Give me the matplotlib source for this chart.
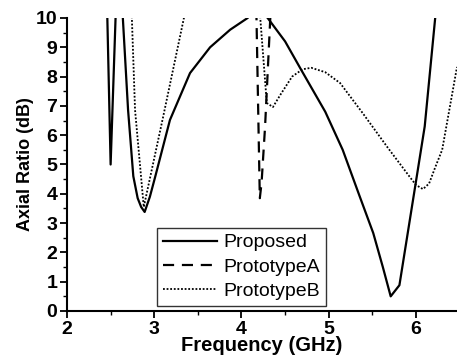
import matplotlib
matplotlib.use('Agg')
import matplotlib.pyplot as plt
from matplotlib.ticker import MultipleLocator

plt.rcParams['font.family'] = ['Liberation Sans', 'DejaVu Sans']

# Proposed (solid)
x_prop = [2.46, 2.50, 2.56, 2.60, 2.64, 2.70, 2.76, 2.81, 2.85, 2.89, 2.95, 3.01,
          3.18, 3.41, 3.64, 3.87, 4.07, 4.18, 4.30, 4.50, 4.69, 4.96, 5.16, 5.35,
          5.51, 5.62, 5.71, 5.81, 6.02, 6.10, 6.22]
y_prop = [10.3, 5.0, 10.3, 11.5, 10.0, 6.86, 4.6, 3.85, 3.55, 3.38, 3.9, 4.57,
          6.52, 8.12, 9.0, 9.6, 10.0, 10.4, 10.0, 9.2, 8.2, 6.8, 5.5, 3.95,
          2.66, 1.5, 0.5, 0.88, 4.8, 6.3, 10.0]

# Prototype A (dashed)
x_protA = [4.17, 4.21, 4.23, 4.27, 4.33, 4.34]
y_protA = [10.3, 3.85, 4.37, 6.28, 10.0, 10.3]

# Prototype B (dotted)
x_protB = [2.74, 2.78, 2.88, 3.10, 3.34, 3.36, 3.80, 4.21, 4.29, 4.36, 4.45, 4.58,
           4.70, 4.80, 4.96, 5.13, 5.39, 5.67, 5.93, 6.00, 6.08, 6.15, 6.22, 6.30,
           6.47]
y_protB = [10.3, 6.86, 3.55, 6.6, 10.0, 10.3, 14.0, 10.2, 7.1, 6.96, 7.4, 8.0,
           8.25, 8.3, 8.15, 7.78, 6.75, 5.6, 4.57, 4.3, 4.16, 4.35, 4.9, 5.5,
           8.33]

fig = plt.figure(figsize=(4.57, 3.62), dpi=100)
ax = fig.add_axes([0.1466, 0.1409, 0.8534, 0.8094])

ax.plot(x_prop, y_prop, color='black', lw=1.6, label='Proposed')
ax.plot(x_protA, y_protA, color='black', lw=1.6, dashes=(5, 3.5), label='PrototypeA')
ax.plot(x_protB, y_protB, color='black', lw=1.3, linestyle=(0, (1, 1)), label='PrototypeB')

ax.set_xlim(2, 6.47)
ax.set_ylim(0, 10)
ax.xaxis.set_major_locator(MultipleLocator(1))
ax.xaxis.set_minor_locator(MultipleLocator(0.5))
ax.yaxis.set_major_locator(MultipleLocator(1))
ax.yaxis.set_minor_locator(MultipleLocator(0.5))

ax.spines['top'].set_visible(False)
ax.spines['right'].set_visible(False)
ax.spines['left'].set_linewidth(1.5)
ax.spines['bottom'].set_linewidth(1.5)
ax.tick_params(which='major', direction='out', length=5, width=1.3, labelsize=14, pad=2)
ax.tick_params(which='minor', direction='out', length=3, width=1.0)
for lab in ax.get_xticklabels() + ax.get_yticklabels():
    lab.set_fontweight('bold')

ax.set_xlabel('Frequency (GHz)', fontsize=14.5, fontweight='bold', labelpad=-1)
ax.set_ylabel('Axial Ratio (dB)', fontsize=13, fontweight='bold', labelpad=1)

leg = ax.legend(loc='lower left', bbox_to_anchor=(0.231, 0.017), borderaxespad=0,
                fontsize=14, frameon=True, fancybox=False, handlelength=2.8,
                handletextpad=0.3, labelspacing=0.35, borderpad=0.3)
leg.get_frame().set_edgecolor('black')
leg.get_frame().set_linewidth(1.0)

fig.savefig('out.png', dpi=100)
